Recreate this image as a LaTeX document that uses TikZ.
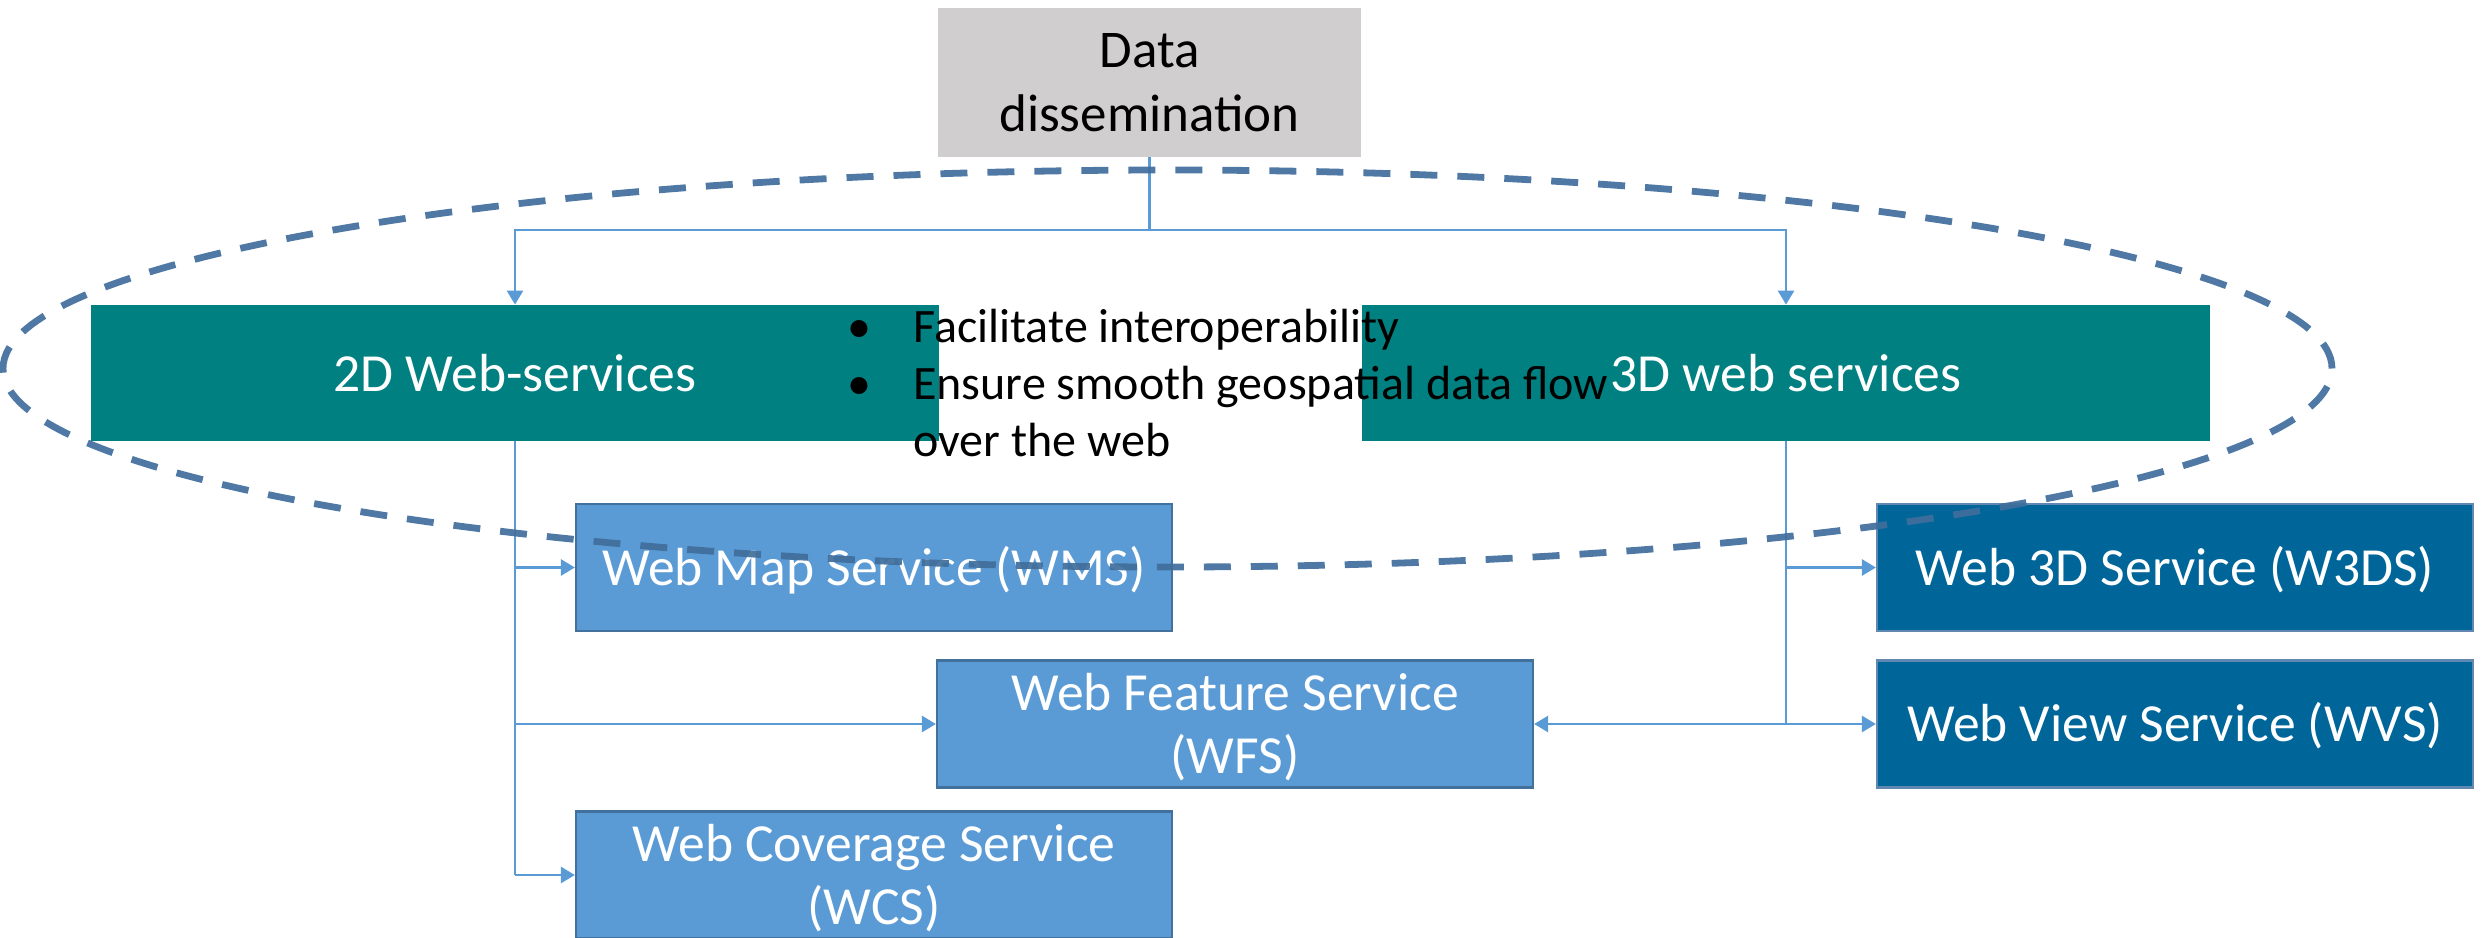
\documentclass[tikz,border=0pt]{standalone}
\usepackage{fontspec}
\setmainfont{Carlito}
\usetikzlibrary{arrows.meta}

\definecolor{datagray}{RGB}{208,206,206}
\definecolor{boxteal}{RGB}{0,128,128}
\definecolor{svclight}{RGB}{91,155,213}
\definecolor{svclightedge}{RGB}{65,113,156}
\definecolor{svcdark}{RGB}{0,102,153}
\definecolor{svcdarkedge}{RGB}{96,136,176}
\definecolor{linkblue}{RGB}{91,155,213}
\definecolor{ringblue}{RGB}{64,110,156}

% service names sit a little below the box centre
\newcommand\svcname[1]{\raisebox{-2.5pt}[\height][\depth]{\begin{tabular}{@{}c@{}}#1\end{tabular}}}

\begin{document}
\begin{tikzpicture}[x=0.5pt,y=-0.5pt,
  box/.style={rectangle, inner sep=0pt, align=center, text=white,
    font=\fontsize{26.8}{31.5}\selectfont},
  grouphead/.style={box, fill=boxteal, minimum width=424pt, minimum height=68pt},
  svcflat/.style={box, fill=svclight, draw=svclightedge, line width=1.1pt,
    minimum width=298pt, minimum height=63.5pt},
  svcdeep/.style={box, fill=svcdark, draw=svcdarkedge, line width=1.1pt,
    minimum width=298pt, minimum height=63.5pt},
  conn/.style={draw=linkblue, line width=1.35pt},
  tip/.style={-{Triangle[length=7pt,width=8pt]}},
]
\useasboundingbox (0,0) rectangle (2488,937);

% top level
\node[fill=datagray, minimum width=211.5pt, minimum height=74.5pt, inner sep=0pt,
  align=center, font=\fontsize{26.5}{32}\selectfont] (data) at (1149.5,82.5)
  {Data\\dissemination};

% service families
\node[grouphead] (web2d) at (515,373) {2D Web-services};
\node[grouphead] (web3d) at (1786,373) {3D web services};

% individual services
\node[svcflat] (wms) at (874,567.5) {\svcname{Web Map Service (WMS)}};
\node[svcflat] (wfs) at (1235,724) {\svcname{Web Feature Service\\(WFS)}};
\node[svcflat] (wcs) at (874,875) {\svcname{Web Coverage Service\\(WCS)}};
\node[svcdeep] (w3ds) at (2175,567.5) {\svcname{Web 3D Service (W3DS)}};
\node[svcdeep] (wvs) at (2175,724) {\svcname{Web View Service (WVS)}};

% connectors
\coordinate (fork) at (1149.5,230);
\draw[conn] (data.south) -- (fork);
\draw[conn,tip] (fork) -| (web2d.north);
\draw[conn,tip] (fork) -| (web3d.north);

\draw[conn] (web2d.south) -- (web2d.south |- wcs.west);
\draw[conn,tip] (web2d.south |- wms.west) -- (wms.west);
\draw[conn,tip] (web2d.south |- wfs.west) -- (wfs.west);
\draw[conn,tip] (web2d.south |- wcs.west) -- (wcs.west);

\draw[conn] (web3d.south) -- (web3d.south |- wvs.west);
\draw[conn,tip] (web3d.south |- w3ds.west) -- (w3ds.west);
\draw[conn,tip] (web3d.south |- wvs.west) -- (wvs.west);
\draw[conn,tip] (web3d.south |- wfs.east) -- (wfs.east);

% goals
\node[anchor=base west, inner sep=0pt, font=\fontsize{24}{28.5}\selectfont] (goals)
  at (859,342) {\begin{tabular}[t]{@{}l@{}l@{}}
    \makebox[27pt][l]{\makebox[0pt]{•}} & Facilitate interoperability\\
    \makebox[27pt][l]{\makebox[0pt]{•}} & Ensure smooth geospatial data flow\\
    & over the web
  \end{tabular}};

% scope ring
\draw[draw=ringblue, line width=3.4pt, dash pattern=on 13.5pt off 10pt, opacity=0.92]
  (1167.5,368.5) ellipse [x radius=582.25pt, y radius=99.25pt];
\end{tikzpicture}
\end{document}
